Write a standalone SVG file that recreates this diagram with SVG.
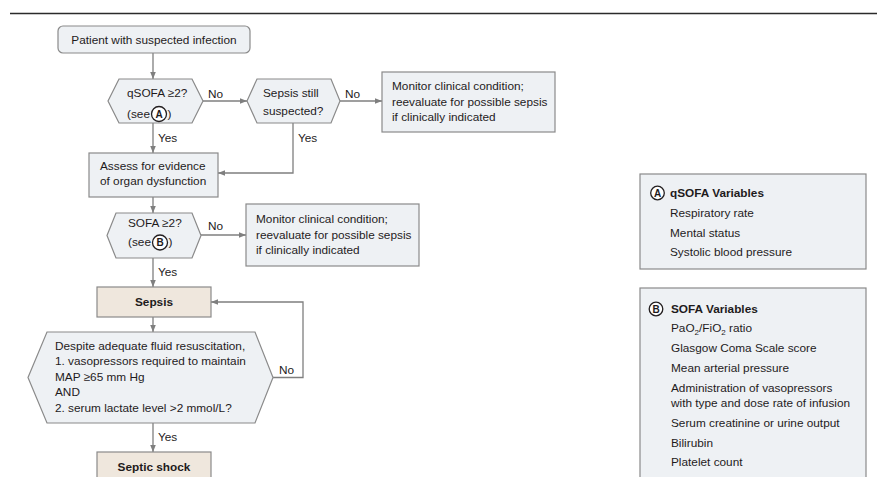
<svg xmlns="http://www.w3.org/2000/svg" width="877" height="477" viewBox="0 0 877 477">
<defs>
<marker id="arr" viewBox="0 0 10 10" refX="10" refY="5" markerWidth="7" markerHeight="7" markerUnits="userSpaceOnUse" orient="auto">
<path d="M0,1 L10,5 L0,9 Z" fill="#7f7f7f"/>
</marker>
<style>
text{font-family:"Liberation Sans",Arial,sans-serif;font-size:11.8px;fill:#1e1b1c}
.b{font-weight:bold}
.box{fill:#eef1f4;stroke:#8a8a8a;stroke-width:1.2}
.sep{fill:#efe7dd;stroke:#8a8a8a;stroke-width:1.2}
.ca{fill:none;stroke:#7f7f7f;stroke-width:1.3;marker-end:url(#arr)}
.circ{fill:#fff;stroke:#231f20;stroke-width:1.3}
.cl{font-size:10px;font-weight:bold;text-anchor:middle}
.m{text-anchor:middle}
</style>
</defs>
<rect width="877" height="477" fill="#fff"/>
<line x1="10" y1="13.5" x2="877" y2="13.5" stroke="#2b2b2b" stroke-width="1.6"/>

<g id="connectors">
<line class="ca" x1="153" y1="53" x2="153" y2="79"/>
<line class="ca" x1="203" y1="101" x2="247" y2="101"/>
<line class="ca" x1="340" y1="101" x2="382" y2="101"/>
<line class="ca" x1="153" y1="123" x2="153" y2="153"/>
<polyline class="ca" points="293,123 293,173 218,173"/>
<line class="ca" x1="153" y1="197" x2="153" y2="213"/>
<line class="ca" x1="201" y1="235" x2="246" y2="235"/>
<line class="ca" x1="153" y1="258" x2="153" y2="287"/>
<line class="ca" x1="153" y1="317" x2="153" y2="332"/>
<polyline class="ca" points="273,377.5 303,377.5 303,302 211,302"/>
<line class="ca" x1="153" y1="423" x2="153" y2="452"/>
<text x="208" y="98">No</text>
<text x="345" y="98">No</text>
<text x="158" y="142">Yes</text>
<text x="298" y="142">Yes</text>
<text x="208" y="230">No</text>
<text x="158" y="276">Yes</text>
<text x="279" y="374">No</text>
<text x="158" y="441">Yes</text>
</g>

<g id="patient">
<rect class="box" x="58" y="26" width="192" height="27" rx="5"/>
<text x="154" y="44" class="m">Patient with suspected infection</text>
</g>

<g id="qsofa">
<polygon class="box" points="108,101 119,79 192,79 203,101 192,123 119,123"/>
<text x="127" y="97">qSOFA ≥2?</text>
<text x="127" y="118">(see</text>
<circle class="circ" cx="159" cy="114" r="7.5"/>
<text x="159" y="117.5" class="cl">A</text>
<text x="167.5" y="118">)</text>
</g>

<g id="still">
<polygon class="box" points="247,101 257,79 331,79 340,101 331,123 257,123"/>
<text x="263" y="97">Sepsis still</text>
<text x="263" y="115">suspected?</text>
</g>

<g id="monitor1">
<rect class="box" x="382" y="72" width="173" height="60"/>
<text x="392" y="90">Monitor clinical condition;</text>
<text x="392" y="106">reevaluate for possible sepsis</text>
<text x="392" y="121">if clinically indicated</text>
</g>

<g id="assess">
<rect class="box" x="89" y="153" width="129" height="44"/>
<text x="100" y="170">Assess for evidence</text>
<text x="100" y="185">of organ dysfunction</text>
</g>

<g id="sofa">
<polygon class="box" points="107,235.5 116,213 192,213 201,235.5 192,258 116,258"/>
<text x="128" y="227">SOFA ≥2?</text>
<text x="128" y="246">(see</text>
<circle class="circ" cx="160" cy="242.5" r="7.5"/>
<text x="160" y="246" class="cl">B</text>
<text x="168.5" y="246">)</text>
</g>

<g id="monitor2">
<rect class="box" x="246" y="204" width="173" height="62"/>
<text x="256" y="223">Monitor clinical condition;</text>
<text x="256" y="239">reevaluate for possible sepsis</text>
<text x="256" y="254">if clinically indicated</text>
</g>

<g id="sepsis">
<rect class="sep" x="97" y="287" width="114" height="30"/>
<text x="154" y="306" class="m b">Sepsis</text>
</g>

<g id="shockq">
<polygon class="box" points="28,377.5 47,332 255,332 273,377.5 255,423 47,423"/>
<text x="55" y="350">Despite adequate fluid resuscitation,</text>
<text x="55" y="365">1. vasopressors required to maintain</text>
<text x="55" y="381">MAP ≥65 mm Hg</text>
<text x="55" y="396">AND</text>
<text x="55" y="412">2. serum lactate level &gt;2 mmol/L?</text>
</g>

<g id="shock">
<rect class="sep" x="97" y="452" width="114" height="30"/>
<text x="154" y="471" class="m b">Septic shock</text>
</g>

<g id="qsofa-vars">
<rect class="box" x="640" y="174" width="226" height="95"/>
<circle class="circ" cx="657.5" cy="193" r="6.8"/>
<text x="657.5" y="196.5" class="cl">A</text>
<text x="670" y="197" class="b">qSOFA Variables</text>
<text x="670" y="217">Respiratory rate</text>
<text x="670" y="237">Mental status</text>
<text x="670" y="256">Systolic blood pressure</text>
</g>

<g id="sofa-vars">
<rect class="box" x="640" y="288" width="226" height="200"/>
<circle class="circ" cx="656" cy="309" r="6.8"/>
<text x="656" y="312.5" class="cl">B</text>
<text x="671" y="313" class="b">SOFA Variables</text>
<text x="671" y="332">PaO<tspan font-size="8" dy="3">2</tspan><tspan dy="-3">/FiO</tspan><tspan font-size="8" dy="3">2</tspan><tspan dy="-3"> ratio</tspan></text>
<text x="671" y="352">Glasgow Coma Scale score</text>
<text x="671" y="372">Mean arterial pressure</text>
<text x="671" y="392">Administration of vasopressors</text>
<text x="671" y="407">with type and dose rate of infusion</text>
<text x="671" y="427">Serum creatinine or urine output</text>
<text x="671" y="447">Bilirubin</text>
<text x="671" y="466">Platelet count</text>
</g>
</svg>
